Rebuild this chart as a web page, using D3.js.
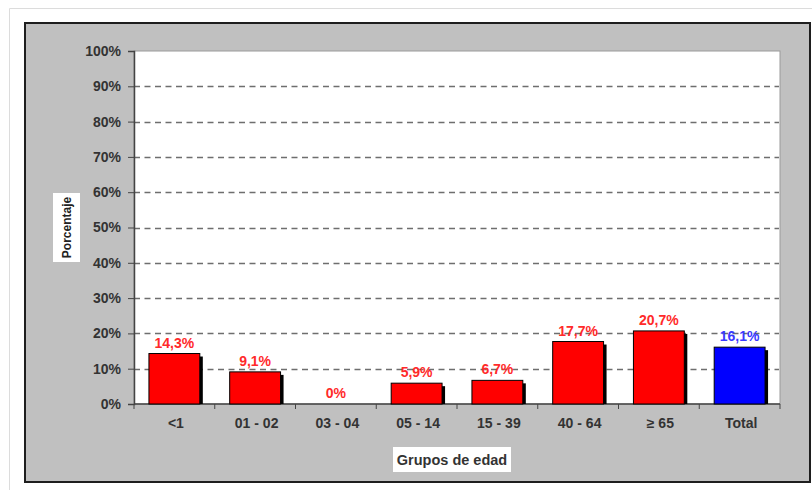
<!DOCTYPE html>
<html>
<head>
<meta charset="utf-8">
<script src="https://d3js.org/d3.v7.min.js"></script>
<style>
  body { margin: 0; background: #fff; }
  svg { display: block; font-family: "Liberation Sans", Arial, sans-serif; }
</style>
</head>
<body>
<div id="chart"></div>
<script>
// data
const groups = ['<1', '01 - 02', '03 - 04', '05 - 14', '15 - 39', '40 - 64', '\u2265 65', 'Total']
const values = [14.3, 9.1, 0, 5.9, 6.7, 17.7, 20.7, 16.1]
const labels = ['14,3%', '9,1%', '0%', '5,9%', '6,7%', '17,7%', '20,7%', '16,1%']
const yTicks = [0, 10, 20, 30, 40, 50, 60, 70, 80, 90, 100]

class barChart {
  constructor(_parentElement) {
    this.parentElement = _parentElement
    this.initVis()
  }

  initVis() {
    const vis = this

    vis.WIDTH = 812
    vis.HEIGHT = 490
    vis.plot = { left: 134, right: 780, top: 51, bottom: 404 }

    vis.svg = d3.select(vis.parentElement).append('svg')
      .attr('width', vis.WIDTH)
      .attr('height', vis.HEIGHT)

    // faint page frame
    vis.svg.append('path')
      .attr('d', 'M9.5,490 V8.5 H812')
      .attr('fill', 'none')
      .attr('stroke', '#dcdcdc')

    // gray chart area
    vis.svg.append('rect')
      .attr('x', 25).attr('y', 23)
      .attr('width', 785).attr('height', 459)
      .attr('fill', '#c0c0c0')
      .attr('stroke', '#1e1e1e')
      .attr('stroke-width', 2)

    // white plot area
    vis.svg.append('rect')
      .attr('x', vis.plot.left).attr('y', vis.plot.top)
      .attr('width', vis.plot.right - vis.plot.left)
      .attr('height', vis.plot.bottom - vis.plot.top)
      .attr('fill', '#fff')
      .attr('stroke', '#9a9a9a')

    vis.x = d3.scaleBand()
      .domain(groups)
      .range([vis.plot.left, vis.plot.right])
      .paddingInner(0.37)
      .paddingOuter(0.185)

    vis.y = d3.scaleLinear()
      .domain([0, 100])
      .range([vis.plot.bottom, vis.plot.top])

    vis.updateVis()
  }

  updateVis() {
    const vis = this

    // dashed gridlines
    vis.svg.append('g')
      .selectAll('line')
      .data(yTicks.filter(d => d > 0 && d < 100))
      .join('line')
      .attr('x1', vis.plot.left).attr('x2', vis.plot.right - 1)
      .attr('y1', d => Math.round(vis.y(d)) + 0.5)
      .attr('y2', d => Math.round(vis.y(d)) + 0.5)
      .attr('stroke', '#6e6e6e')
      .attr('stroke-width', 1.3)
      .attr('stroke-dasharray', '6,4.5')

    // y axis
    const yAxis = vis.svg.append('g')
      .attr('transform', `translate(${vis.plot.left},0)`)
      .call(d3.axisLeft(vis.y).tickValues(yTicks).tickSize(6).tickPadding(7).tickFormat(d => d + '%'))
    yAxis.select('.domain').attr('stroke', '#444').attr('stroke-width', 1.5)
    yAxis.selectAll('.tick line').attr('stroke', '#444')
    yAxis.selectAll('text')
      .attr('fill', '#333')
      .attr('font-size', 14)
      .attr('font-weight', 'bold')

    // x axis with ticks between groups
    const step = vis.x.step()
    const xAxis = vis.svg.append('g')
      .attr('transform', `translate(0,${vis.plot.bottom})`)
    xAxis.append('line')
      .attr('x1', vis.plot.left).attr('x2', vis.plot.right)
      .attr('stroke', '#444').attr('stroke-width', 1.5)
    xAxis.selectAll('.sep')
      .data(d3.range(groups.length + 1))
      .join('line')
      .attr('class', 'sep')
      .attr('x1', i => vis.plot.left + i * step)
      .attr('x2', i => vis.plot.left + i * step)
      .attr('y1', 0).attr('y2', 5)
      .attr('stroke', '#444')
    xAxis.selectAll('text')
      .data(groups)
      .join('text')
      .attr('x', d => vis.x(d) + vis.x.bandwidth() / 2 + 1.5)
      .attr('y', 24)
      .attr('text-anchor', 'middle')
      .attr('fill', '#333')
      .attr('font-size', 14)
      .attr('font-weight', 'bold')
      .text(d => d)

    const colour = d => d === 'Total' ? '#0000ff' : '#ff0000'

    // bar shadows
    vis.svg.append('g')
      .selectAll('rect')
      .data(groups)
      .join('rect')
      .attr('x', d => vis.x(d) + 3)
      .attr('y', (d, i) => vis.y(values[i]) + 3)
      .attr('width', vis.x.bandwidth())
      .attr('height', (d, i) => Math.max(0, vis.y(0) - vis.y(values[i]) - 3))
      .attr('fill', '#000')

    // bars
    vis.svg.append('g')
      .selectAll('rect')
      .data(groups)
      .join('rect')
      .attr('x', d => vis.x(d))
      .attr('y', (d, i) => vis.y(values[i]))
      .attr('width', vis.x.bandwidth())
      .attr('height', (d, i) => vis.y(0) - vis.y(values[i]))
      .attr('fill', d => colour(d))
      .attr('stroke', (d, i) => values[i] > 0 ? '#000' : 'none')
      .attr('stroke-width', 1)

    // value labels
    vis.svg.append('g')
      .selectAll('text')
      .data(groups)
      .join('text')
      .attr('x', d => vis.x(d) + vis.x.bandwidth() / 2)
      .attr('y', (d, i) => vis.y(values[i]) - 6)
      .attr('text-anchor', 'middle')
      .attr('font-size', 14)
      .attr('font-weight', 'bold')
      .attr('fill', d => d === 'Total' ? '#3a3aff' : '#ff2a2a')
      .text((d, i) => labels[i])

    // axis titles in white boxes
    const xt = vis.svg.append('g')
    xt.append('rect')
      .attr('x', 393).attr('y', 447).attr('width', 118).attr('height', 25)
      .attr('fill', '#fff')
    xt.append('text')
      .attr('x', 452).attr('y', 465)
      .attr('text-anchor', 'middle')
      .attr('font-size', 14.5)
      .attr('font-weight', 'bold')
      .attr('fill', '#333')
      .text('Grupos de edad')

    const yt = vis.svg.append('g')
    yt.append('rect')
      .attr('x', 53).attr('y', 193).attr('width', 27).attr('height', 69)
      .attr('fill', '#fff')
    yt.append('text')
      .attr('transform', 'translate(70.5,227.5) rotate(-90)')
      .attr('text-anchor', 'middle')
      .attr('font-size', 12)
      .attr('font-weight', 'bold')
      .attr('fill', '#222')
      .text('Porcentaje')
  }
}

new barChart('#chart')
</script>
</body>
</html>
